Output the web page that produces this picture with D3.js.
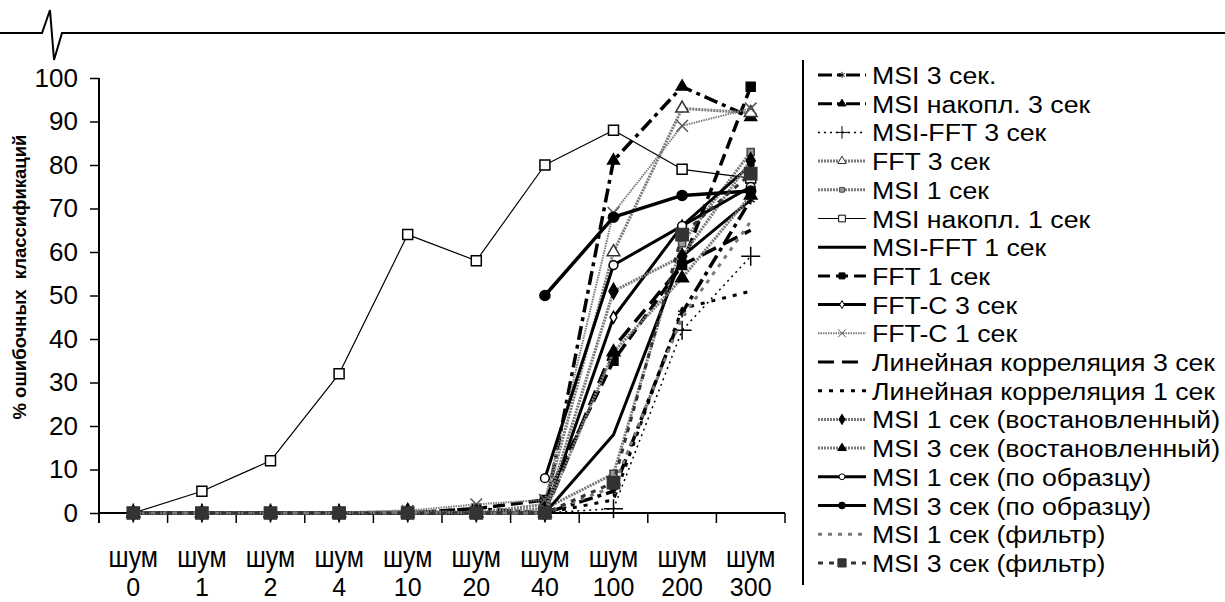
<!DOCTYPE html>
<html>
<head>
<meta charset="utf-8">
<script src="https://cdn.jsdelivr.net/npm/d3@7"></script>
<style>
  html, body { margin: 0; padding: 0; background: #fff; }
  svg { display: block; }
  text { font-family: "Liberation Sans", Arial, sans-serif; fill: #000; }
</style>
</head>
<body>
<svg id="chart" width="1225" height="602"></svg>
<script>
// categories (noise level) and tick labels
var categories = ["0", "1", "2", "4", "10", "20", "40", "100", "200", "300"];
var yTicks = [0, 10, 20, 30, 40, 50, 60, 70, 80, 90, 100];

// series values, % of wrong classifications
var msi3      = [0, 0, 0, 0, 0, 1, 0, 5, 46, 72];
var msiAcc3   = [0, 0, 0, 0, 0, 0, 0, 81, 98, 91];
var msiFft3   = [0, 0, 0, 0, 0, 0, 0, 1, 42, 59];
var fft3      = [0, 0, 0, 0, 0, 0, 2, 60, 93, 92];
var msi1      = [0, 0, 0, 0, 0, 0, 1, 9, 62, 83];
var msiAcc1   = [0, 5, 12, 32, 64, 58, 80, 88, 79, 77];
var msiFft1   = [0, 0, 0, 0, 0, 0, 0, 18, 59, 72];
var fft1      = [0, 0, 0, 0, 0, 1, 3, 35, 57, 98];
var fftC3     = [0, 0, 0, 0, 0, 0, 0, 45, 66, 80];
var fftC1     = [0, 0, 0, 0, 0.5, 2, 3, 69, 89, 93];
var linCorr3  = [0, 0, 0, 0, 0, 0, 0, 38, 57, 65];
var linCorr1  = [0, 0, 0, 0, 0, 0, 0, 3, 47, 51];
var msi1Rest  = [0, 0, 0, 0, 0, 0, 0, 51, 59, 81];
var msi3Rest  = [0, 0, 0, 0, 0.5, 0, 0, 37, 54, 73];
var msi1Samp  = [null, null, null, null, null, null, 8, 57, 66, 75];
var msi3Samp  = [null, null, null, null, null, null, 50, 68, 73, 74];
var msi1Filt  = [0, 0, 0, 0, 0, 0, 0, 6, 45, 67];
var msi3Filt  = [0, 0, 0, 0, 0, 0, 0, 7, 64, 78];

var seriesNames = [
  "MSI 3 сек.", "MSI накопл. 3 сек", "MSI-FFT 3 сек", "FFT 3 сек", "MSI 1 сек",
  "MSI накопл. 1 сек", "MSI-FFT 1 сек", "FFT 1 сек", "FFT-C 3 сек", "FFT-C 1 сек",
  "Линейная корреляция 3 сек", "Линейная корреляция 1 сек",
  "MSI 1 сек (востановленный)", "MSI 3 сек (востановленный)",
  "MSI 1 сек (по образцу)", "MSI 3 сек (по образцу)",
  "MSI 1 сек (фильтр)", "MSI 3 сек (фильтр)"
];
var seriesValues = [
  msi3, msiAcc3, msiFft3, fft3, msi1, msiAcc1, msiFft1, fft1, fftC3, fftC1,
  linCorr3, linCorr1, msi1Rest, msi3Rest, msi1Samp, msi3Samp, msi1Filt, msi3Filt
];

// line / marker look of every series (same order as the names)
var GRAY = "#7a7a7a";
var styles = [
  {c: "#000", w: 3.5, dash: "14,5,4,5", sym: d3.symbolAsterisk, fill: "none", ms: "#000", sz: 60},
  {c: "#000", w: 3.5, dash: "14,5,4,5", sym: d3.symbolTriangle, fill: "#000", ms: "#000", sz: 60},
  {c: "#000", w: 1.5, dash: "2,4", sym: d3.symbolPlus, fill: "none", ms: "#000", sz: 120},
  {c: GRAY, w: 3, dash: "2,1", sym: d3.symbolTriangle, fill: "#fff", ms: "#333", sz: 70},
  {c: GRAY, w: 3, dash: "2,1", sym: d3.symbolSquare, fill: "#999", ms: "#444", sz: 50},
  {c: "#000", w: 1.2, dash: null, sym: d3.symbolSquare, fill: "#fff", ms: "#000", sz: 100},
  {c: "#000", w: 3, dash: null, sym: null},
  {c: "#000", w: 3.5, dash: "12,6", sym: d3.symbolSquare, fill: "#000", ms: "#000", sz: 80},
  {c: "#000", w: 3, dash: null, sym: d3.symbolDiamond, fill: "#fff", ms: "#000", sz: 40},
  {c: GRAY, w: 2, dash: "1.5,1", sym: d3.symbolX, fill: "none", ms: "#555", sz: 90},
  {c: "#000", w: 3.5, dash: "16,8", sym: null},
  {c: "#000", w: 3, dash: "4,7", sym: null},
  {c: GRAY, w: 3, dash: "2,1", sym: d3.symbolDiamond, fill: "#000", ms: "#000", sz: 70},
  {c: GRAY, w: 3, dash: "2,1", sym: d3.symbolTriangle, fill: "#000", ms: "#000", sz: 70},
  {c: "#000", w: 3, dash: null, sym: d3.symbolCircle, fill: "#fff", ms: "#000", sz: 60},
  {c: "#000", w: 3.5, dash: null, sym: d3.symbolCircle, fill: "#000", ms: "#000", sz: 80},
  {c: GRAY, w: 3, dash: "4,6", sym: null},
  {c: "#333", w: 3, dash: "5,6", sym: d3.symbolSquare, fill: "#333", ms: "#333", sz: 150}
];

var svg = d3.select("#chart");

// header rule with the little spike
svg.append("path")
  .attr("d", "M0,33 L42,33 L50,10 L54,60 L62,33 L1225,33")
  .attr("fill", "none")
  .attr("stroke", "#000")
  .attr("stroke-width", 2);

var x = d3.scaleBand().domain(categories).range([99, 785]);
var y = d3.scaleLinear().domain([0, 100]).range([513, 78]);

function cx(i) { return x(categories[i]) + x.bandwidth() / 2; }

// y axis
var yAxis = svg.append("g").attr("transform", "translate(99,0)")
  .call(d3.axisLeft(y).tickValues(yTicks).tickSize(9).tickPadding(12));
yAxis.select(".domain").attr("d", "M0,78V523").attr("stroke-width", 2);
yAxis.selectAll(".tick line").attr("stroke-width", 1.5);
yAxis.selectAll(".tick text")
  .attr("font-size", 26)
  .attr("font-family", "Liberation Sans, Arial, sans-serif");

// x axis
var xAxis = svg.append("g").attr("transform", "translate(0,513)");
xAxis.append("line")
  .attr("x1", 99).attr("x2", 785).attr("y1", 0).attr("y2", 0)
  .attr("stroke", "#000").attr("stroke-width", 2);
x.domain().forEach(function(c, i) {
  var bx = x(c) + x.bandwidth();
  xAxis.append("line")
    .attr("x1", bx).attr("x2", bx).attr("y1", 0).attr("y2", 10)
    .attr("stroke", "#000").attr("stroke-width", 1.5);
  xAxis.append("text")
    .attr("transform", "translate(" + cx(i) + ",54) scale(1,1.15)")
    .attr("text-anchor", "middle").attr("font-size", 25)
    .text("шум");
  xAxis.append("text")
    .attr("x", cx(i)).attr("y", 83)
    .attr("text-anchor", "middle").attr("font-size", 25)
    .text(c);
});

// y axis title
svg.append("text")
  .attr("transform", "translate(26,277) rotate(-90)")
  .attr("text-anchor", "middle")
  .attr("font-size", 18.5)
  .attr("font-weight", "bold")
  .style("white-space", "pre")
  .text("% ошибочных  классификаций");

// series
var line = d3.line()
  .defined(function(d) { return d != null; })
  .x(function(d, i) { return cx(i); })
  .y(function(d) { return y(d); });

var gSeries = svg.append("g");
seriesValues.forEach(function(vals, k) {
  var st = styles[k];
  var g = gSeries.append("g");
  g.append("path")
    .attr("d", line(vals))
    .attr("fill", "none")
    .attr("stroke", st.c)
    .attr("stroke-width", st.w)
    .attr("stroke-dasharray", st.dash)
    .attr("stroke-linejoin", "round");
  if (st.sym) {
    g.selectAll("path.m")
      .data(vals.map(function(v, i) { return {v: v, i: i}; })
        .filter(function(d) { return d.v != null; }))
      .enter().append("path")
      .attr("class", "m")
      .attr("transform", function(d) { return "translate(" + cx(d.i) + "," + y(d.v) + ")"; })
      .attr("d", d3.symbol().type(st.sym).size(st.sz))
      .attr("fill", st.fill)
      .attr("stroke", st.ms)
      .attr("stroke-width", 1.5);
  }
});

// legend
svg.append("line")
  .attr("x1", 803).attr("x2", 803).attr("y1", 60).attr("y2", 585)
  .attr("stroke", "#000").attr("stroke-width", 2);

var leg = svg.append("g");
seriesNames.forEach(function(name, k) {
  var st = styles[k];
  var ly = 75 + k * 28.7;
  var row = leg.append("g").attr("transform", "translate(0," + ly + ")");
  row.append("line")
    .attr("x1", 818).attr("x2", 866).attr("y1", 0).attr("y2", 0)
    .attr("stroke", st.c)
    .attr("stroke-width", Math.min(st.w, 3))
    .attr("stroke-dasharray", st.dash);
  if (st.sym) {
    row.append("path")
      .attr("transform", "translate(842,0)")
      .attr("d", d3.symbol().type(st.sym).size(st.sz * 0.45))
      .attr("fill", st.fill === "none" ? "none" : st.fill)
      .attr("stroke", st.ms)
      .attr("stroke-width", 1);
  }
  row.append("text")
    .attr("transform", "translate(872,9) scale(1.09,1)")
    .attr("font-size", 24.5)
    .text(name);
});
</script>
</body>
</html>
